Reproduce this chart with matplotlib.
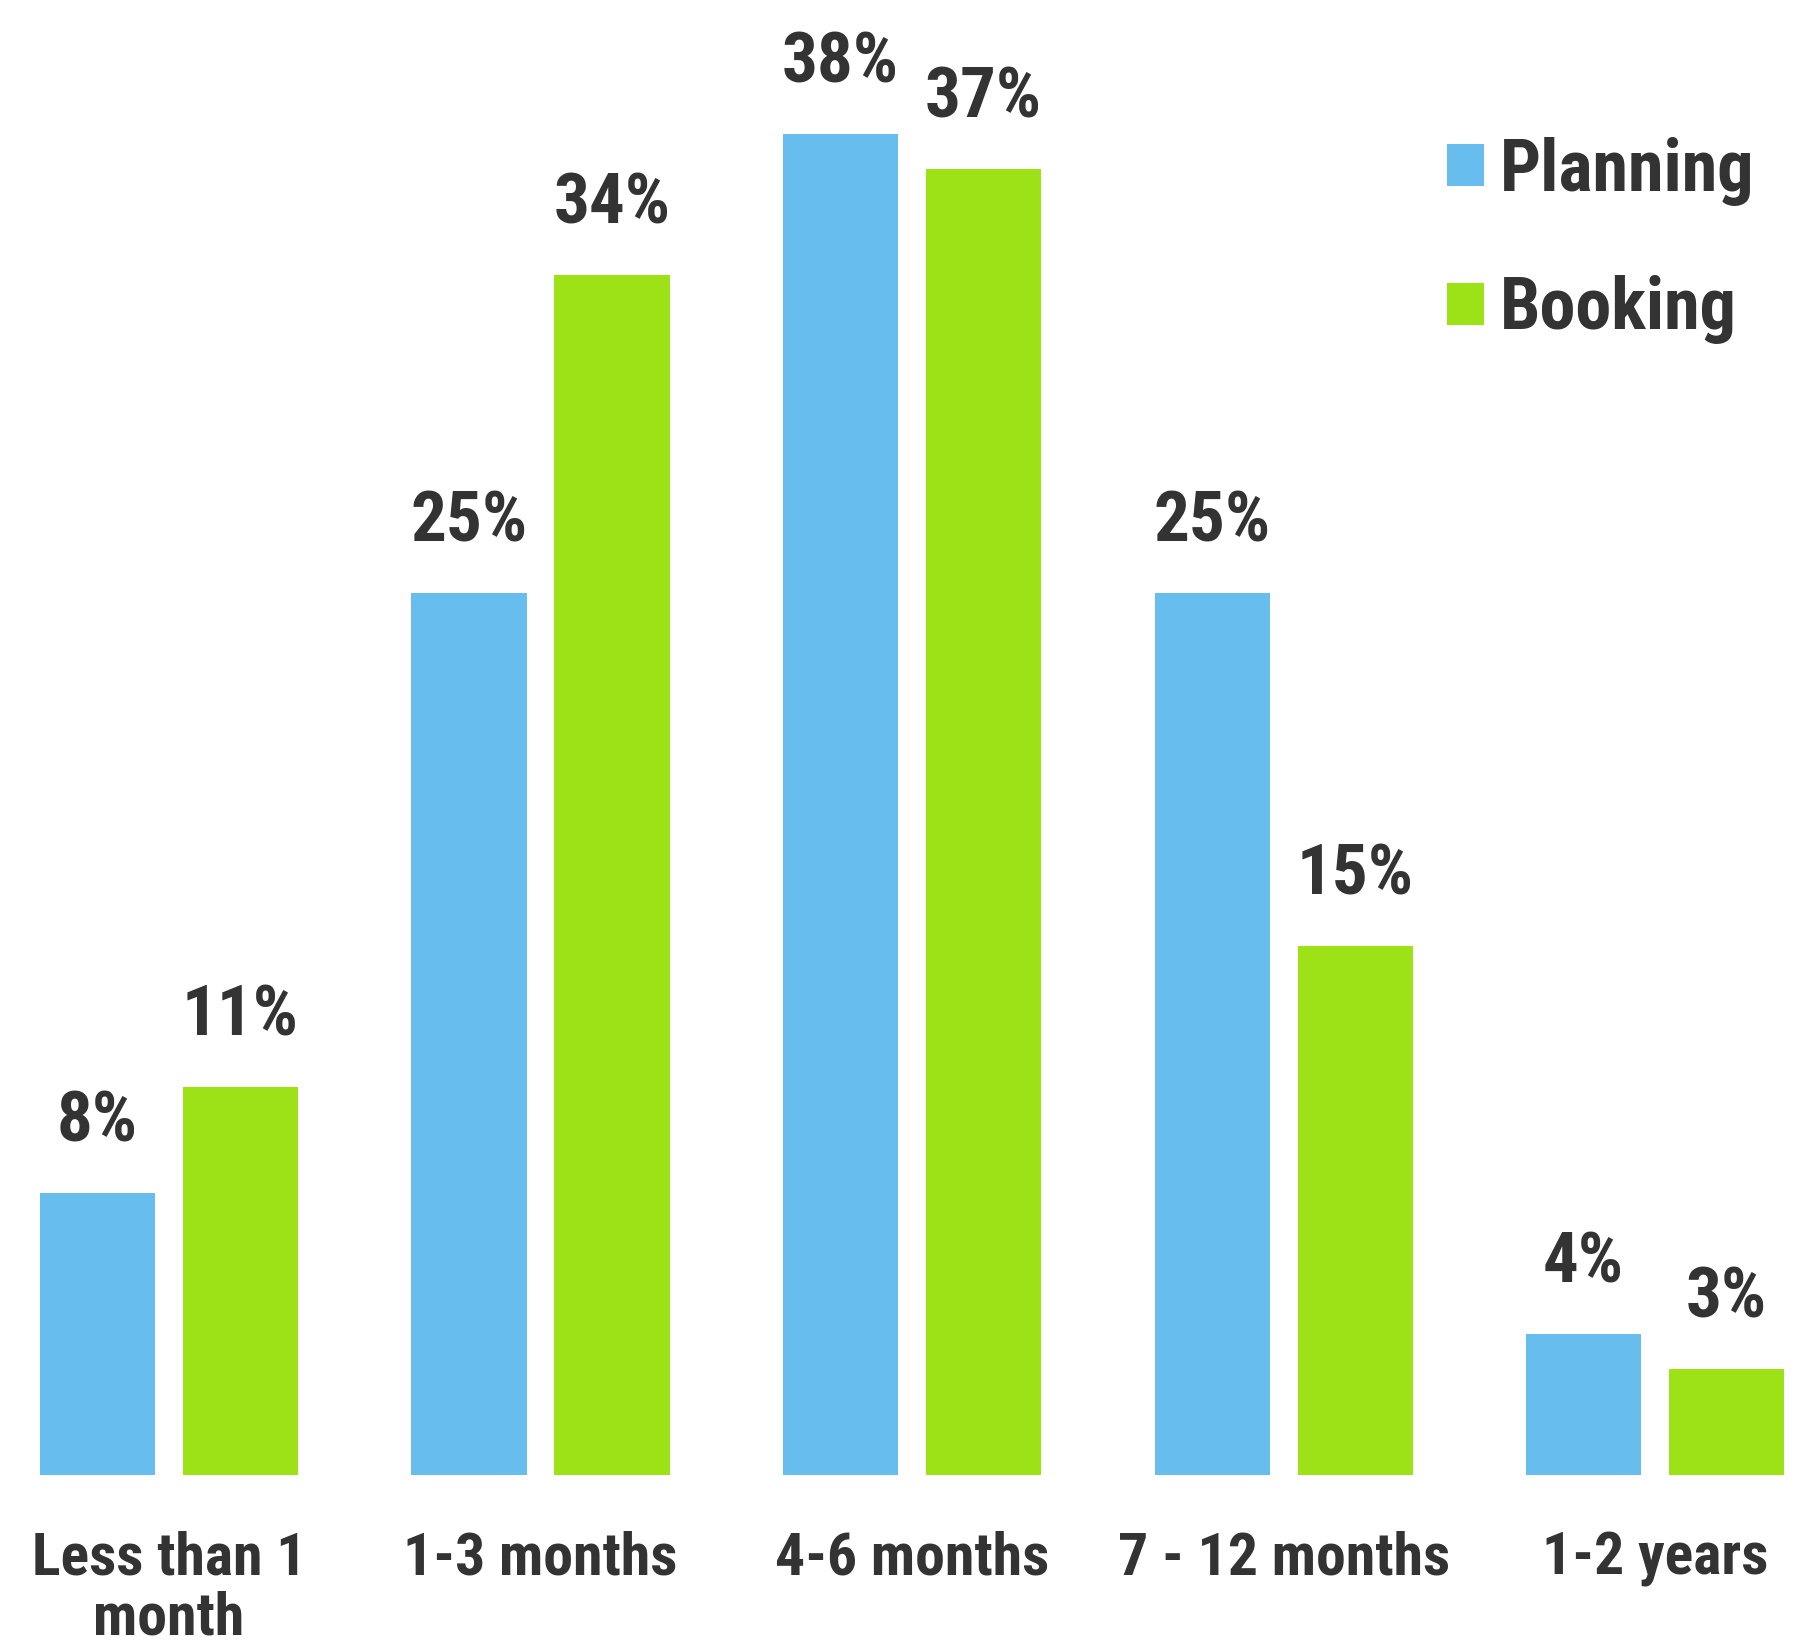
import matplotlib
matplotlib.use("Agg")
import matplotlib.pyplot as plt
from matplotlib import font_manager
import numpy as np

categories = ["Less than 1\nmonth", "1-3 months", "4-6 months", "7 - 12 months", "1-2 years"]
planning = [8, 25, 38, 25, 4]
booking = [11, 34, 37, 15, 3]
series_names = ["Planning", "Booking"]

BLUE = "#67BDEE"
GREEN = "#9DE216"
TEXT = "#333333"

# pick a condensed bold sans if one is installed
fonts = font_manager.fontManager.ttflist
names = {f.name for f in fonts}
family, stretch = None, "normal"
for cand in ["Liberation Sans Narrow", "Roboto Condensed", "Open Sans Condensed",
             "Noto Sans Condensed", "DejaVu Sans Condensed"]:
    if cand in names:
        family = cand
        break
if family is None:
    for f in fonts:
        if f.name in ("Roboto", "Open Sans", "Noto Sans", "DejaVu Sans") and \
                str(f.stretch) in ("condensed", "semi-condensed", "extra-condensed", "75", "87.5"):
            family, stretch = f.name, f.stretch
            break
if family is None:
    family = "Roboto"

plt.rcParams["font.family"] = [family, "Liberation Sans", "DejaVu Sans"]
plt.rcParams["font.stretch"] = stretch
plt.rcParams["font.weight"] = "bold"

fig = plt.figure(figsize=(18.03, 16.44), dpi=100)
ax = fig.add_axes([0, 1 - 1475 / 1644, 1, 1475 / 1644])

x = np.arange(len(categories))
width = 0.31
offset = 0.1925

b1 = ax.bar(x - offset, planning, width, color=BLUE, label=series_names[0])
b2 = ax.bar(x + offset, booking, width, color=GREEN, label=series_names[1])

for bars, vals in ((b1, planning), (b2, booking)):
    for rect, v in zip(bars, vals):
        ax.annotate(f"{v}%", (rect.get_x() + rect.get_width() / 2, v),
                    xytext=(0, 37), textcoords="offset points",
                    ha="center", va="baseline", fontsize=51,
                    fontweight="bold", color=TEXT, annotation_clip=False)

ax.set_xlim(-0.455, 4.398)
ax.set_ylim(0, 41.8)
ax.set_xticks(x)
ax.set_xticklabels(categories, fontsize=43, fontweight="bold", color=TEXT,
                   linespacing=1.1, va="top")
ax.tick_params(axis="x", length=0, pad=40)
ax.set_yticks([])
for s in ax.spines.values():
    s.set_visible(False)

leg = ax.legend(loc="upper left", bbox_to_anchor=(1418 / 1803, 1 - 108 / 1475),
                frameon=False, fontsize=52, handlelength=0.52, handleheight=0.52,
                handletextpad=0.22, labelspacing=0.96, borderaxespad=0)
for t in leg.get_texts():
    t.set_color(TEXT)
    t.set_fontweight("bold")

fig.savefig("out.png", dpi=100, facecolor="white")
